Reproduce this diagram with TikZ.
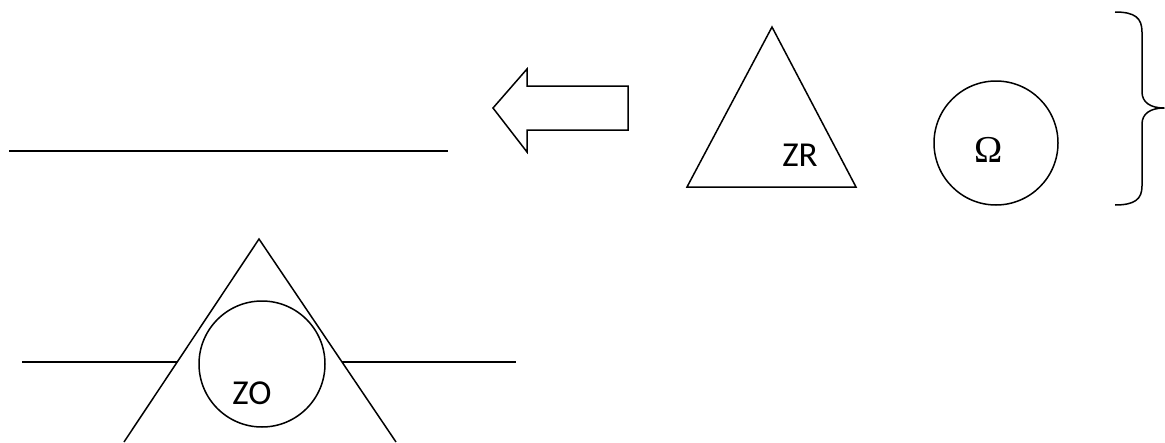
\documentclass[tikz,border=0pt]{standalone}
\usepackage{fontspec}
\setsansfont{Carlito}
\newfontfamily\omegafont{Liberation Serif}
\begin{document}
\begin{tikzpicture}[x=1pt,y=-1pt,
  shape line/.style={draw=black,line width=1.5pt,line join=miter},
  lbl/.style={font=\sffamily\fontsize{35}{40}\selectfont,inner sep=0pt}]
\useasboundingbox (0,0) rectangle (1165,442);
\clip (0,0) rectangle (1165,442);
% top line
\coordinate (l1a) at (9,151);
\coordinate (l1b) at (448,151);
\draw[shape line] (l1a) -- (l1b);
% block arrow
\draw[shape line] (493,108) -- (527,69) -- (527,86) -- (628,86) -- (628,130) -- (527,130) -- (527,152) -- cycle;
% triangle ZR
\coordinate (t1a) at (772,27);
\coordinate (t1b) at (687,187);
\coordinate (t1c) at (856,187);
\draw[shape line] (t1a) -- (t1b) -- (t1c) -- cycle;
\node[lbl] (zr) at (800,155) {ZR};
% circle Omega
\node[shape line,circle,minimum size=124pt,inner sep=0pt] (om) at (996,143) {};
\node[inner sep=0pt,font=\omegafont\fontsize{38}{40}\selectfont] (omt) at (989,150) {Ω};
% brace
\draw[shape line,line join=round] (1115,12) .. controls (1135,12) and (1142,18) .. (1142,32)
  -- (1142,92) .. controls (1142,102) and (1150,108) .. (1164,108)
  .. controls (1150,108) and (1142,114) .. (1142,124)
  -- (1142,186) .. controls (1142,199) and (1135,205) .. (1115,205);
% bottom triangle
\coordinate (t2a) at (259,239);
\coordinate (t2b) at (124,442);
\coordinate (t2c) at (396,442);
\draw[shape line] (t2b) -- (t2a) -- (t2c);
% horizontal lines through triangle
\coordinate (h1) at (22,362);
\coordinate (h2) at (177,362);
\coordinate (h3) at (342,362);
\coordinate (h4) at (516,362);
\draw[shape line] (h1) -- (h2);
\draw[shape line] (h3) -- (h4);
% circle ZO
\node[shape line,circle,minimum size=126pt,inner sep=0pt] (zoc) at (262,364) {};
\node[lbl] (zo) at (252,393) {ZO};
\end{tikzpicture}
\end{document}
